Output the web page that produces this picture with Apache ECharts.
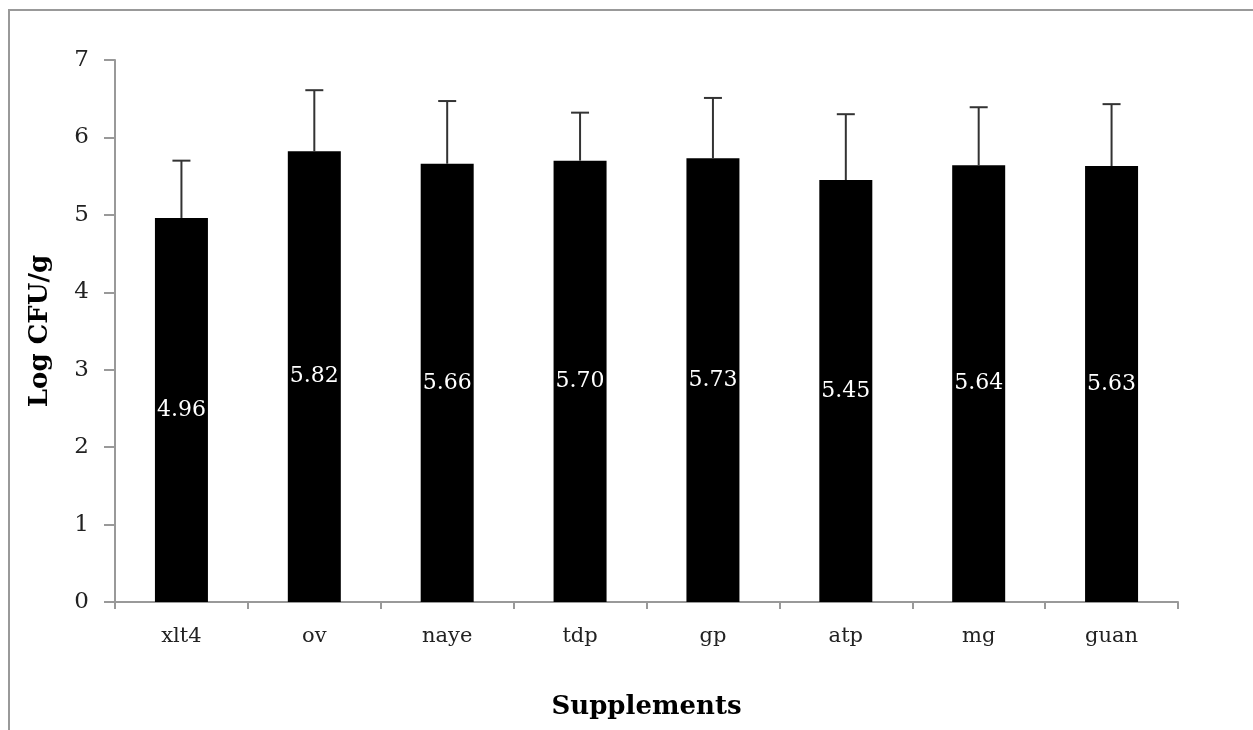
<!DOCTYPE html>
<html>
<head>
<meta charset="utf-8">
<script src="https://cdn.jsdelivr.net/npm/echarts@6/dist/echarts.min.js"></script>
<style>
html,body{margin:0;padding:0;background:#fff;}
#chart{width:1253px;height:730px;}
</style>
</head>
<body>
<div id="chart"></div>
<script>
const categories = ['xlt4','ov','naye','tdp','gp','atp','mg','guan'];
const means = [4.96, 5.82, 5.66, 5.70, 5.73, 5.45, 5.64, 5.63];
const errors = [0.74, 0.79, 0.81, 0.62, 0.78, 0.85, 0.75, 0.80];
const yTicks = [0,1,2,3,4,5,6,7];

const FONT = 'DejaVu Serif';
const chart = echarts.init(document.getElementById('chart'));

const errData = categories.map((c, i) => [i, means[i], means[i] + errors[i]]);

chart.setOption({
  animation: false,
  backgroundColor: '#fff',
  graphic: [
    {type:'line', shape:{x1:8, y1:10, x2:1253, y2:10}, style:{stroke:'#999', lineWidth:2}},
    {type:'line', shape:{x1:9, y1:10, x2:9, y2:730}, style:{stroke:'#999', lineWidth:2}}
  ],
  grid: {left:115, right:75, top:60, bottom:128, containLabel:false},
  xAxis: {
    type:'category',
    data: categories,
    name:'Supplements',
    nameLocation:'middle',
    nameGap:92,
    nameTextStyle:{fontFamily:FONT, fontWeight:'bold', fontSize:26, color:'#000'},
    axisLine:{lineStyle:{color:'#999', width:2}},
    axisTick:{show:true, length:7, alignWithLabel:false, lineStyle:{color:'#999', width:2}},
    axisLabel:{fontFamily:FONT, fontSize:21, color:'#222', margin:24}
  },
  yAxis: {
    type:'value',
    min: yTicks[0],
    max: yTicks[yTicks.length-1],
    interval: 1,
    name:'Log CFU/g',
    nameLocation:'middle',
    nameGap:62,
    nameRotate:90,
    nameTextStyle:{fontFamily:FONT, fontWeight:'bold', fontSize:26, color:'#000'},
    axisLine:{show:true, lineStyle:{color:'#999', width:2}},
    axisTick:{show:true, inside:false, length:11, lineStyle:{color:'#999', width:2}},
    splitLine:{show:false},
    axisLabel:{fontFamily:FONT, fontSize:23, color:'#222', margin:26}
  },
  series: [
    {
      type:'bar',
      data: means,
      barWidth:53,
      itemStyle:{color:'#000'},
      label:{
        show:true,
        position:'inside',
        fontFamily:FONT,
        fontSize:22,
        color:'#fff',
        formatter: p => p.value.toFixed(2)
      },
      z:2
    },
    {
      type:'custom',
      data: errData,
      z:3,
      renderItem: function(params, api){
        const x = api.value(0);
        const lo = api.coord([x, api.value(1)]);
        const hi = api.coord([x, api.value(2)]);
        const hw = 9;
        return {
          type:'group',
          children:[
            {type:'line', shape:{x1:lo[0], y1:lo[1], x2:hi[0], y2:hi[1]}, style:{stroke:'#333', lineWidth:2}},
            {type:'line', shape:{x1:hi[0]-hw, y1:hi[1], x2:hi[0]+hw, y2:hi[1]}, style:{stroke:'#333', lineWidth:2}}
          ]
        };
      }
    }
  ]
});
</script>
</body>
</html>
